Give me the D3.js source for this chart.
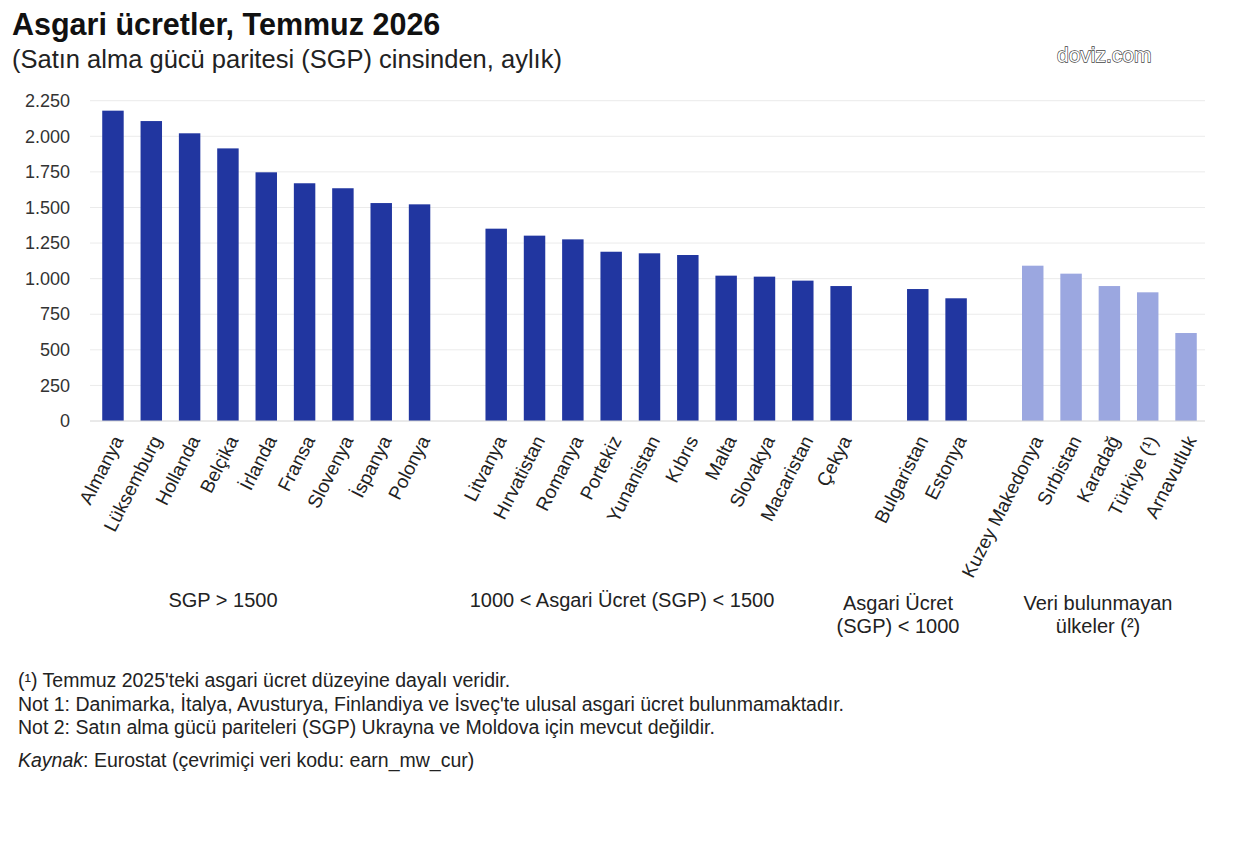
<!DOCTYPE html>
<html>
<head>
<meta charset="utf-8">
<script src="https://cdn.jsdelivr.net/npm/d3@7"></script>
<style>
  body { margin: 0; background: #fff; }
  svg text { font-family: "Liberation Sans", Arial, sans-serif; }
</style>
</head>
<body>
<div id="chart"></div>
<script>
// Veriler
const ulkeler1 = ["Almanya", "Lüksemburg", "Hollanda", "Belçika", "İrlanda", "Fransa", "Slovenya", "İspanya", "Polonya"]
const degerler1 = [2180, 2107, 2021, 1915, 1747, 1670, 1635, 1531, 1522]
const ulkeler2 = ["Litvanya", "Hırvatistan", "Romanya", "Portekiz", "Yunanistan", "Kıbrıs", "Malta", "Slovakya", "Macaristan", "Çekya"]
const degerler2 = [1351, 1302, 1276, 1189, 1178, 1166, 1021, 1014, 986, 948]
const ulkeler3 = ["Bulgaristan", "Estonya"]
const degerler3 = [927, 862]
const ulkeler4 = ["Kuzey Makedonya", "Sırbistan", "Karadağ", "Türkiye (¹)", "Arnavutluk"]
const degerler4 = [1091, 1035, 948, 904, 618]
const grupEtiketleri = [["SGP > 1500"], ["1000 < Asgari Ücret (SGP) < 1500"], ["Asgari Ücret", "(SGP) < 1000"], ["Veri bulunmayan", "ülkeler (²)"]]
const yTikler = [0, 250, 500, 750, 1000, 1250, 1500, 1750, 2000, 2250]
const notlar = [
  "(¹) Temmuz 2025'teki asgari ücret düzeyine dayalı veridir.",
  "Not 1: Danimarka, İtalya, Avusturya, Finlandiya ve İsveç'te ulusal asgari ücret bulunmamaktadır.",
  "Not 2: Satın alma gücü pariteleri (SGP) Ukrayna ve Moldova için mevcut değildir."
]

const width = 1236, height = 852

const svg = d3.select("#chart")
  .append("svg")
    .attr("width", width)
    .attr("height", height)

// grupları tek listede topla, aralara boşluk koy
const gruplar = [
  {ulkeler: ulkeler1, degerler: degerler1, renk: "#2136a0"},
  {ulkeler: ulkeler2, degerler: degerler2, renk: "#2136a0"},
  {ulkeler: ulkeler3, degerler: degerler3, renk: "#2136a0"},
  {ulkeler: ulkeler4, degerler: degerler4, renk: "#9ba7e0"}
]
const data = []
const slotlar = []
gruplar.forEach((g, gi) => {
  if (gi > 0) slotlar.push("bosluk" + gi)
  g.ulkeler.forEach((u, i) => {
    slotlar.push(u)
    data.push({key: u, value: g.degerler[i], renk: g.renk, grup: gi})
  })
})

const x = d3.scaleBand()
  .domain(slotlar)
  .range([93.8, 1205.2])
  .paddingInner(0.44)
  .paddingOuter(0.22)

const y = d3.scaleLinear()
  .domain([0, 2250])
  .range([421, 100.7])

const trFormat = d3.formatLocale({decimal: ",", thousands: ".", grouping: [3], currency: ["", "₺"]}).format(",")

// ızgara çizgileri
svg.append("g")
  .selectAll("line")
  .data(yTikler.slice(1))
  .join("line")
    .attr("x1", 90)
    .attr("x2", 1205)
    .attr("y1", d => y(d))
    .attr("y2", d => y(d))
    .attr("stroke", "#ebebeb")
    .attr("stroke-width", 1)

// Y ekseni
const yAxis = svg.append("g")
  .attr("transform", "translate(70,0)")
  .call(d3.axisLeft(y).tickValues(yTikler).tickFormat(trFormat).tickSize(0).tickPadding(0))
yAxis.select(".domain").remove()
yAxis.selectAll("text")
  .attr("font-size", 18)
  .attr("fill", "#333")
  .attr("font-family", "Liberation Sans, Arial, sans-serif")

// Barlar
svg.selectAll("rect.bar")
  .data(data)
  .join("rect")
    .attr("class", "bar")
    .attr("x", d => x(d.key))
    .attr("y", d => y(d.value))
    .attr("width", x.bandwidth())
    .attr("height", d => y(0) - y(d.value))
    .attr("fill", d => d.renk)

// taban çizgisi
svg.append("line")
  .attr("x1", 90).attr("x2", 1205)
  .attr("y1", y(0)).attr("y2", y(0))
  .attr("stroke", "#d4d4d4")

// X etiketleri
svg.append("g")
  .selectAll("text")
  .data(data)
  .join("text")
    .attr("transform", d => `translate(${x(d.key) + x.bandwidth() / 2 + 5},${y(0) + 16}) rotate(-63)`)
    .attr("text-anchor", "end")
    .attr("dy", "0.35em")
    .attr("font-size", 19)
    .attr("fill", "#222")
    .text(d => d.key)

// Grup etiketleri
const grupX = [223, 622, 898, 1098]
const grupY = [607, 607, 610, 610]
grupEtiketleri.forEach((satirlar, i) => {
  const t = svg.append("text")
    .attr("x", grupX[i])
    .attr("y", grupY[i])
    .attr("text-anchor", "middle")
    .attr("font-size", 20)
    .attr("fill", "#222")
  satirlar.forEach((s, j) => {
    t.append("tspan").attr("x", grupX[i]).attr("dy", j === 0 ? 0 : 23).text(s)
  })
})

// Başlık
svg.append("text")
  .attr("x", 12).attr("y", 35)
  .attr("font-size", 30.5)
  .attr("font-weight", "bold")
  .attr("fill", "#111")
  .text("Asgari ücretler, Temmuz 2026")
svg.append("text")
  .attr("x", 12).attr("y", 68)
  .attr("font-size", 25.5)
  .attr("fill", "#222")
  .text("(Satın alma gücü paritesi (SGP) cinsinden, aylık)")

// filigran
svg.append("text")
  .attr("x", 1057).attr("y", 62)
  .attr("font-size", 21)
  .attr("fill", "#fff")
  .attr("stroke", "#444")
  .attr("stroke-width", 1.3)
  .attr("paint-order", "stroke")
  .text("doviz.com")

// Notlar
svg.append("g")
  .selectAll("text")
  .data(notlar)
  .join("text")
    .attr("x", 18)
    .attr("y", (d, i) => 687 + i * 23.5)
    .attr("font-size", 19.5)
    .attr("fill", "#222")
    .text(d => d)

const kaynak = svg.append("text")
  .attr("x", 18).attr("y", 767)
  .attr("font-size", 19.5)
  .attr("fill", "#222")
kaynak.append("tspan").attr("font-style", "italic").text("Kaynak")
kaynak.append("tspan").text(": Eurostat (çevrimiçi veri kodu: earn_mw_cur)")
</script>
</body>
</html>
